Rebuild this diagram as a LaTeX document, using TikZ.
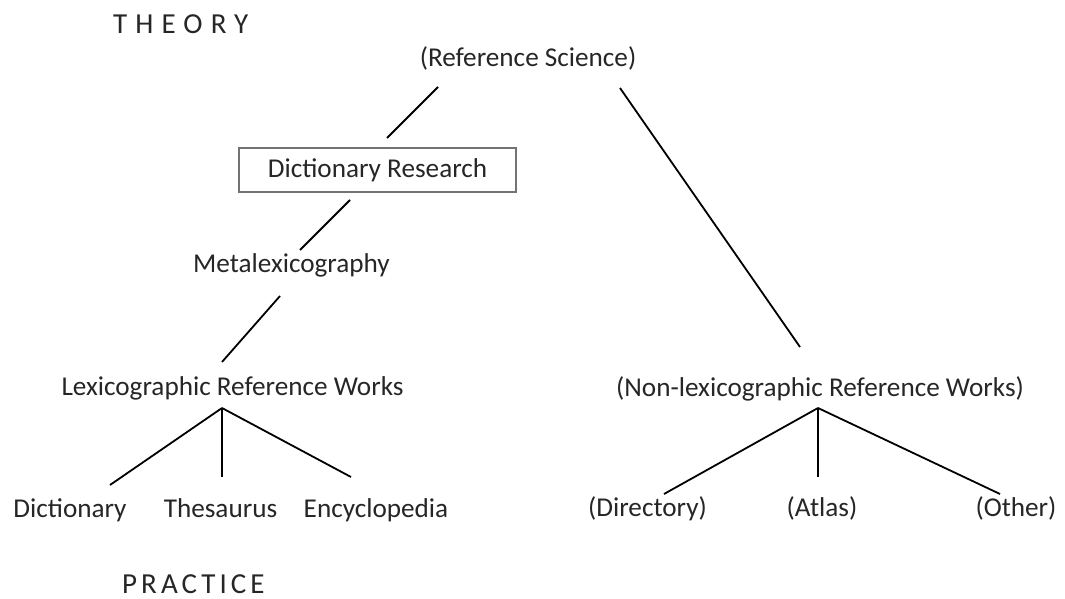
\documentclass[tikz,border=0pt]{standalone}
\usepackage{fontspec}
\setmainfont{Carlito}
\begin{document}
\begin{tikzpicture}[x=1pt, y=-1pt,
	lbl/.style={anchor=base, inner sep=0pt, text=black!85, font=\fontsize{27.2}{30}\selectfont},
	head/.style={anchor=base west, inner sep=0pt, text=black!85, font=\fontsize{29}{32}\selectfont\addfontfeature{LetterSpace=#1}},
	boxed/.style={draw=black!55, line width=1.2pt, minimum width=277pt, minimum height=44pt, inner sep=0pt, text=black!85, font=\fontsize{27.2}{30}\selectfont},
	link/.style={line width=1.8pt}]
	\useasboundingbox (0,0) rectangle (1065,599);
	% Headings
	\node[head=28] (theory) at (113,34) {THEORY};
	\node[head=14] (practice) at (122,593) {PRACTICE};
	% Theory side
	\node[lbl] (refsci) at (528,67) {(Reference Science)};
	\node[boxed] (dictres) at (377.5,170) {Dictionary Research};
	\node[lbl] (meta) at (291.5,272) {Metalexicography};
	% Lexicographic works
	\node[lbl] (lex) at (232.5,395) {Lexicographic Reference Works};
	\node[lbl] (dict) at (70,517) {Dictionary};
	\node[lbl] (thes) at (220.5,517) {Thesaurus};
	\node[lbl] (ency) at (376,517) {Encyclopedia};
	% Non-lexicographic works
	\node[lbl] (nonlex) at (820,396) {(Non-lexicographic Reference Works)};
	\node[lbl] (direc) at (647.5,516) {(Directory)};
	\node[lbl] (atlas) at (822,516) {(Atlas)};
	\node[lbl] (other) at (1016,516) {(Other)};
	% Line ends
	\coordinate (rs-l) at (438,87);
	\coordinate (rs-r) at (620,88);
	\coordinate (dr-t) at (387,138);
	\coordinate (dr-b) at (350,200);
	\coordinate (me-t) at (300,250);
	\coordinate (me-b) at (280,296);
	\coordinate (lx-t) at (222,362);
	\coordinate (lx-b) at (222,408);
	\coordinate (di-t) at (110,485);
	\coordinate (th-t) at (222,477);
	\coordinate (en-t) at (351,477);
	\coordinate (nl-t) at (800,347);
	\coordinate (nl-b) at (818,408);
	\coordinate (dy-t) at (664,494);
	\coordinate (at-t) at (818,477);
	\coordinate (ot-t) at (1000,494);
	% Connectors
	\draw[link] (rs-l) -- (dr-t);
	\draw[link] (dr-b) -- (me-t);
	\draw[link] (me-b) -- (lx-t);
	\draw[link] (rs-r) -- (nl-t);
	\foreach \e in {di-t, th-t, en-t}
		\draw[link] (lx-b) -- (\e);
	\foreach \e in {dy-t, at-t, ot-t}
		\draw[link] (nl-b) -- (\e);
\end{tikzpicture}
\end{document}
